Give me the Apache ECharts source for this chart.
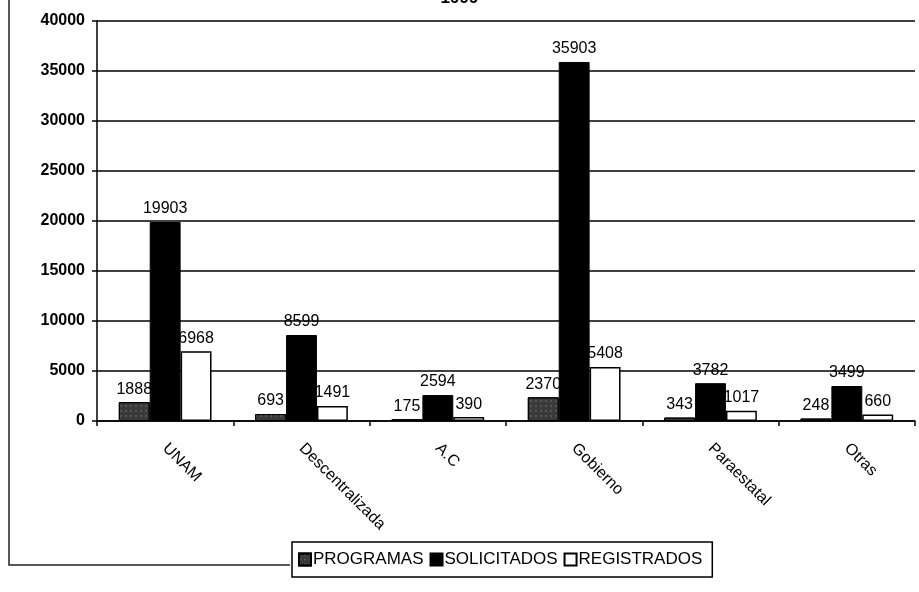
<!DOCTYPE html>
<html>
<head>
<meta charset="utf-8">
<script src="https://cdn.jsdelivr.net/npm/echarts@6/dist/echarts.min.js"></script>
<style>
  html, body { margin: 0; padding: 0; background: #fff; }
  #main { width: 919px; height: 592px; }
</style>
</head>
<body>
<div id="main"></div>
<script>
// categorias y valores
const categorias = ['UNAM', 'Descentralizada', 'A.C', 'Gobierno', 'Paraestatal', 'Otras'];
const programas = [1888, 693, 175, 2370, 343, 248];
const solicitados = [19903, 8599, 2594, 35903, 3782, 3499];
const registrados = [6968, 1491, 390, 5408, 1017, 660];
const yTicks = [0, 5000, 10000, 15000, 20000, 25000, 30000, 35000, 40000];

const chart = echarts.init(document.getElementById('main'));
const fuente = 'Arial, "Liberation Sans", sans-serif';

const etiqueta = {
  show: true,
  position: 'top',
  distance: 5,
  color: '#000',
  fontFamily: fuente,
  fontSize: 16
};

chart.setOption({
  animation: false,
  backgroundColor: '#fff',
  title: {
    text: '1999',
    left: 'center',
    top: -15,
    textStyle: { fontFamily: fuente, fontSize: 17, fontWeight: 'bold', color: '#000' }
  },
  grid: { left: 97, top: 21, right: 4, bottom: 171 },
  legend: {
    bottom: 15,
    left: 292,
    icon: 'rect',
    itemWidth: 12,
    itemHeight: 12,
    itemGap: 6,
    padding: [9, 10, 9, 6],
    borderColor: '#000',
    borderWidth: 1.5,
    textStyle: { fontFamily: fuente, fontSize: 17, color: '#000', padding: [0, 0, 0, -3] },
    data: ['PROGRAMAS', 'SOLICITADOS', 'REGISTRADOS']
  },
  xAxis: {
    type: 'category',
    data: categorias,
    axisLine: { lineStyle: { color: '#000', width: 1.5 } },
    axisTick: { show: true, inside: false, length: 5, lineStyle: { color: '#000', width: 1.5 } },
    axisLabel: {
      rotate: -45,
      margin: 25,
      color: '#000',
      fontFamily: fuente,
      fontSize: 16
    }
  },
  yAxis: {
    type: 'value',
    min: yTicks[0],
    max: yTicks[yTicks.length - 1],
    interval: 5000,
    axisLine: { show: true, lineStyle: { color: '#000', width: 1.5 } },
    axisTick: { show: true, length: 5, lineStyle: { color: '#000', width: 1.5 } },
    axisLabel: {
      margin: 12,
      color: '#000',
      fontFamily: fuente,
      fontSize: 16,
      fontWeight: 'bold',
      formatter: v => String(v)
    },
    splitLine: { lineStyle: { color: '#000', width: 1.5 } }
  },
  series: [
    {
      name: 'PROGRAMAS',
      type: 'bar',
      data: programas,
      barGap: '0%',
      barCategoryGap: '32%',
      itemStyle: {
        color: '#3a3a3a',
        borderColor: '#000',
        borderWidth: 1,
        decal: {
          symbol: 'rect',
          symbolSize: 0.5,
          color: 'rgba(255,255,255,0.55)',
          dashArrayX: [[2, 3]],
          dashArrayY: [2, 3],
          rotation: 0
        }
      },
      label: etiqueta
    },
    {
      name: 'SOLICITADOS',
      type: 'bar',
      data: solicitados,
      itemStyle: { color: '#000', borderColor: '#000', borderWidth: 1 },
      label: etiqueta
    },
    {
      name: 'REGISTRADOS',
      type: 'bar',
      data: registrados,
      itemStyle: { color: '#fff', borderColor: '#000', borderWidth: 1.5 },
      label: etiqueta
    }
  ],
  graphic: [
    {
      type: 'polyline',
      shape: { points: [[9, 0], [9, 565], [290, 565]] },
      style: { stroke: '#222', lineWidth: 1.5, fill: null }
    }
  ]
});
</script>
</body>
</html>
